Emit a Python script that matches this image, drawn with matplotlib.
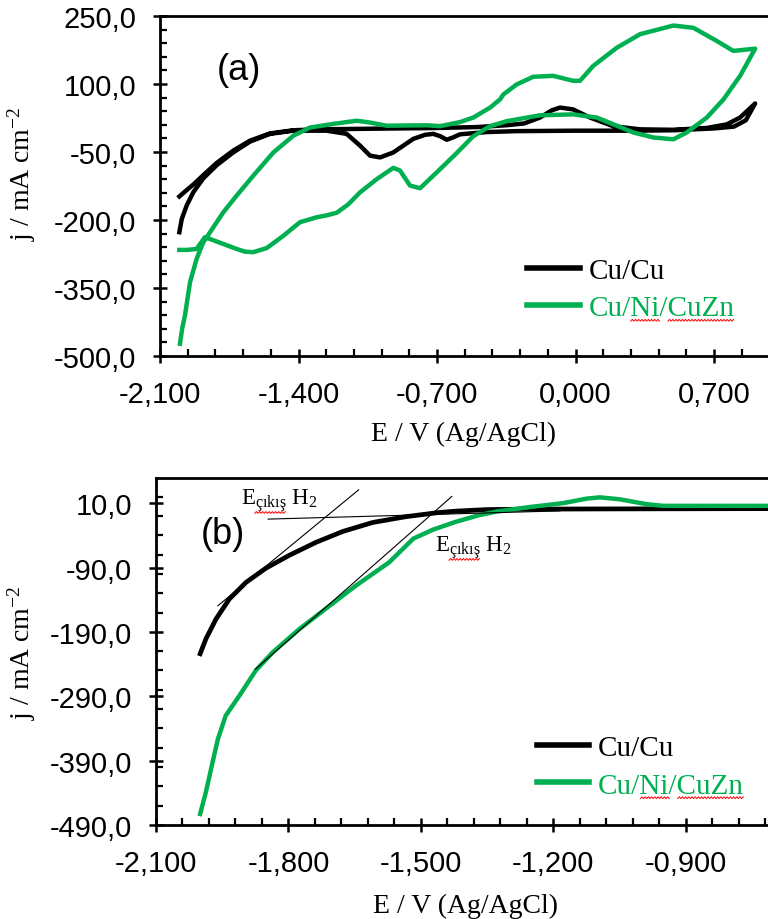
import matplotlib
matplotlib.use("Agg")
import numpy as np
import matplotlib.pyplot as plt
from matplotlib.lines import Line2D
from matplotlib.transforms import IdentityTransform
from matplotlib.ticker import MultipleLocator, FuncFormatter

plt.rcParams['font.family'] = ['Liberation Serif', 'DejaVu Serif']
plt.rcParams['mathtext.fontset'] = 'custom'
plt.rcParams['mathtext.rm'] = 'Liberation Serif'
plt.rcParams['mathtext.it'] = 'Liberation Serif:italic'
plt.rcParams['mathtext.bf'] = 'Liberation Serif:bold'

GREEN = '#00B050'

# ---- panel (a): cyclic voltammograms ----
cu_fwd_E = [-2.002, -1.965, -1.932, -1.881, -1.813, -1.730, -1.645, -1.544, -1.426, -1.30,
            -1.10, -0.90, -0.70, -0.50, -0.35, -0.26, -0.18, -0.12, -0.079, -0.013,
            0.073, 0.189, 0.326, 0.49, 0.663, 0.764, 0.831, 0.907]
cu_fwd_j = [-148, -134, -122, -101, -74, -47, -25, -9, -2, 0,
            1, 2, 3, 5, 9, 13, 26, 42, 48, 44,
            26, 7, 0, -1, 3, 11, 26, 57]
cu_rev_E = [0.907, 0.86, 0.80, 0.70, 0.50, 0.30, 0.00, -0.30, -0.45, -0.584, -0.62, -0.651,
            -0.685, -0.719, -0.76, -0.82, -0.921, -0.988, -1.039, -1.089, -1.157, -1.258,
            -1.426, -1.544, -1.645, -1.730, -1.813, -1.881, -1.932, -1.965, -1.990, -2.002]
cu_rev_j = [57, 20, 6, 2, -2, -3, -3, -4, -6, -11, -18, -23,
            -15, -10, -12, -21, -51, -62, -58, -36, -10, -3,
            -3, -10, -27, -51, -79, -108, -139, -168, -198, -227]

cz_fwd_E = [-1.999, -1.988, -1.974, -1.948, -1.915, -1.881, -1.847, -1.780, -1.712, -1.628,
            -1.527, -1.426, -1.342, -1.224, -1.106, -1.039, -0.955, -0.752, -0.685, -0.584,
            -0.517, -0.432, -0.382, -0.365, -0.298, -0.214, -0.113, -0.012, 0.022, 0.089,
            0.208, 0.326, 0.494, 0.595, 0.713, 0.797, 0.907]
cz_fwd_j = [-473, -440, -411, -337, -286, -249, -227, -183, -146, -102,
            -51, -14, 4, 12, 19, 15, 8, 9, 7, 16,
            26, 48, 66, 77, 99, 116, 118, 107, 107, 140,
            180, 210, 229, 224, 195, 173, 178]
cz_rev_E = [0.907, 0.831, 0.747, 0.663, 0.561, 0.494, 0.393, 0.292, 0.191, 0.107,
            -0.012, -0.180, -0.348, -0.432, -0.517, -0.60, -0.685, -0.786, -0.837, -0.887,
            -0.921, -1.005, -1.089, -1.150, -1.207, -1.260, -1.308, -1.393, -1.477, -1.561,
            -1.628, -1.670, -1.712, -1.847, -1.873, -1.915, -1.965, -2.002]
cz_rev_j = [178, 118, 66, 26, -7, -22, -18, -7, 11, 26,
            33, 31, 18, 7, -15, -52, -88, -130, -124, -91,
            -85, -110, -139, -166, -184, -190, -194, -205, -235, -262,
            -271, -270, -264, -242, -238, -264, -266, -266]

# ---- panel (b): cathodic polarisation ----
cu_b_E = [-2.0, -1.987, -1.964, -1.934, -1.896, -1.851, -1.798, -1.738, -1.677, -1.609,
          -1.534, -1.459, -1.421, -1.35, -1.25, -1.10, -0.95, -0.714]
cu_b_j = [-224, -201, -170, -139, -113, -91, -71, -51, -34, -20,
          -11, -4.5, -2.4, 0, 0.7, 1, 1.2, 1.5]
cz_b_E = [-2.0, -1.987, -1.972, -1.960, -1.942, -1.911, -1.874, -1.836, -1.776, -1.708,
          -1.647, -1.572, -1.517, -1.472, -1.421, -1.370, -1.329, -1.253, -1.178, -1.125,
          -1.095, -1.050, -0.989, -0.951, -0.838, -0.714]
cz_b_j = [-473, -439, -393, -357, -320, -289, -250, -222, -186, -150,
          -118, -82, -45, -31, -19, -9, -3, 4, 10, 17,
          19, 16, 8.4, 5.8, 5.8, 5.8]

# tangent lines used to read the H2 onset potentials
tan_cu_E = [-1.960, -1.641]
tan_cu_j = [-149.5, 30.7]
tan_base_E = [-1.846, -1.185]
tan_base_j = [-14.8, -2.0]
tan_cz_E = [-1.875, -1.43]
tan_cz_j = [-248, 20.4]

labels = ['Cu/Cu', 'Cu/Ni/CuZn']
onset_label = r'E$_{\mathrm{çıkış}}$ H$_2$'


def fmt(nd):
    def f(v, pos):
        if abs(v) < 1e-9:
            v = 0.0
        return f"{v:.{nd}f}".replace('.', ',')
    return FuncFormatter(f)


def style(ax):
    for s in ['top', 'left', 'bottom']:
        ax.spines[s].set_linewidth(2.0)
    ax.spines['right'].set_visible(False)
    ax.tick_params(which='major', direction='inout', length=10, width=1.8,
                   labelsize=21, pad=12)
    ax.tick_params(which='minor', direction='in', length=5, width=1.6)
    for lab in ax.get_xticklabels() + ax.get_yticklabels():
        lab.set_family('Liberation Sans')


def squiggle(x0, x1, y):
    # red spell-check underline, in pixels
    xs = np.arange(x0, x1 + 0.1, 1.6)
    ys = y + np.where(np.arange(len(xs)) % 2 == 0, -0.9, 0.9)
    fig.add_artist(Line2D(xs, ys, transform=IdentityTransform(), color='red', lw=0.7))


fig = plt.figure(figsize=(7.68, 9.2), dpi=100)

ax1 = fig.add_axes([0.2083, 0.6120, 0.7917, 0.3695])
ax1.plot(cu_fwd_E + cu_rev_E, cu_fwd_j + cu_rev_j, color='black', lw=3.2,
         label=labels[0], solid_joinstyle='round')
ax1.plot(cz_fwd_E + cz_rev_E, cz_fwd_j + cz_rev_j, color=GREEN, lw=3.2,
         label=labels[1], solid_joinstyle='round')
ax1.set_xlim(-2.1, 0.972)
ax1.set_ylim(-500, 250)
ax1.xaxis.set_major_locator(MultipleLocator(0.7))
ax1.xaxis.set_minor_locator(MultipleLocator(0.14))
ax1.yaxis.set_major_locator(MultipleLocator(150, offset=100))
ax1.yaxis.set_minor_locator(MultipleLocator(30, offset=10))
ax1.xaxis.set_major_formatter(fmt(3))
ax1.yaxis.set_major_formatter(fmt(1))
style(ax1)
ax1.set_xlabel('E / V (Ag/AgCl)', fontsize=20)
ax1.set_ylabel('j / mA cm$^{-2}$', fontsize=20)
ax1.xaxis.set_label_coords(0.5, -0.19)
ax1.yaxis.set_label_coords(-0.20, 0.54)
ax1.text(0.094, 0.844, '(a)', transform=ax1.transAxes, fontsize=26,
         family='Liberation Sans', va='center', ha='left')
leg1 = ax1.legend(loc='upper left', bbox_to_anchor=(0.604, 0.29), frameon=False,
                  fontsize=21, handlelength=1.8, handletextpad=0.3,
                  labelspacing=0.38, borderpad=0, borderaxespad=0,
                  labelcolor='linecolor')
for ln in leg1.get_lines():
    ln.set_linewidth(4.0)

ax2 = fig.add_axes([0.2031, 0.1022, 0.7969, 0.3771])
ax2.plot(cu_b_E, cu_b_j, color='black', lw=3.4, label=labels[0])
ax2.plot(cz_b_E, cz_b_j, color=GREEN, lw=3.2, label=labels[1])
for te, tj in [(tan_cu_E, tan_cu_j), (tan_base_E, tan_base_j), (tan_cz_E, tan_cz_j)]:
    ax2.plot(te, tj, color='black', lw=0.8)
ax2.set_xlim(-2.1, -0.714)
ax2.set_ylim(-490, 49)
ax2.xaxis.set_major_locator(MultipleLocator(0.3))
ax2.xaxis.set_minor_locator(MultipleLocator(0.06))
ax2.yaxis.set_major_locator(MultipleLocator(100, offset=10))
ax2.yaxis.set_minor_locator(MultipleLocator(30, offset=20))
ax2.xaxis.set_major_formatter(fmt(3))
ax2.yaxis.set_major_formatter(fmt(1))
style(ax2)
ax2.set_xlabel('E / V (Ag/AgCl)', fontsize=20)
ax2.set_ylabel('j / mA cm$^{-2}$', fontsize=20)
ax2.xaxis.set_label_coords(0.505, -0.195)
ax2.yaxis.set_label_coords(-0.192, 0.5)
ax2.text(0.0735, 0.839, '(b)', transform=ax2.transAxes, fontsize=26,
         family='Liberation Sans', va='center', ha='left')
on1 = ax2.text(-1.908, 8.4, onset_label, fontsize=16.5, va='baseline')
on2 = ax2.text(-1.468, -64.5, onset_label, fontsize=16.5, va='baseline')
leg2 = ax2.legend(loc='upper left', bbox_to_anchor=(0.6225, 0.26), frameon=False,
                  fontsize=21, handlelength=1.8, handletextpad=0.3,
                  labelspacing=0.38, borderpad=0, borderaxespad=0,
                  labelcolor='linecolor')
for ln in leg2.get_lines():
    ln.set_linewidth(4.0)

# spell-check underlines as in the source document
fig.canvas.draw()
rnd = fig.canvas.get_renderer()
for leg in (leg1, leg2):
    t = leg.get_texts()[1]
    bb = t.get_window_extent(rnd)
    prop = t.get_fontproperties()
    s = t.get_text()
    w = lambda sub: rnd.get_text_width_height_descent(sub, prop, ismath=False)[0]
    squiggle(bb.x0 + w(s[:3]), bb.x0 + w(s[:5]), bb.y0 + 1)
    squiggle(bb.x0 + w(s[:6]), bb.x0 + w(s), bb.y0 + 1)
for t in (on1, on2):
    bb = t.get_window_extent(rnd)
    prop = t.get_fontproperties()
    wE = rnd.get_text_width_height_descent('E', prop, ismath=False)[0]
    wS = rnd.get_text_width_height_descent(r'E$_{\mathrm{çıkış}}$', prop, ismath=True)[0]
    squiggle(bb.x0 + wE, bb.x0 + wS, bb.y0 + 1)

fig.savefig('out.png', dpi=100)
